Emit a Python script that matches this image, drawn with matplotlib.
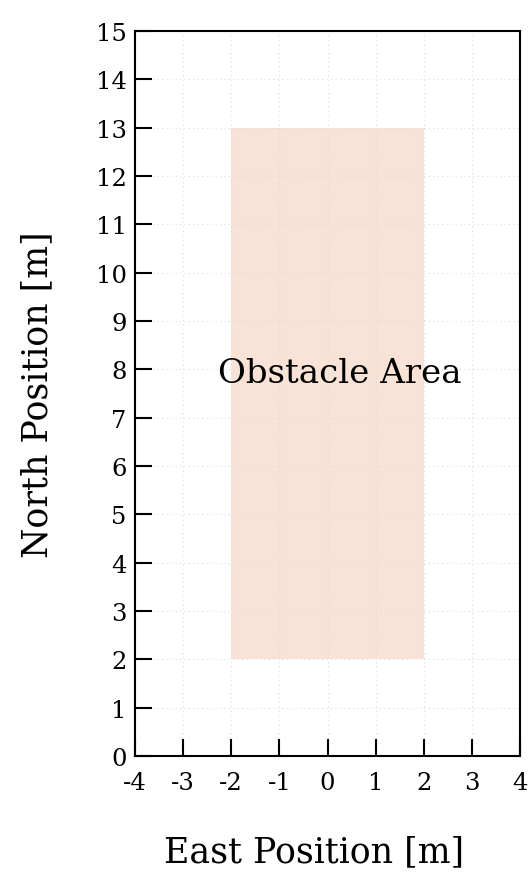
import matplotlib
matplotlib.use("Agg")
import matplotlib.pyplot as plt
from matplotlib.patches import Rectangle

x_ticks = [-4, -3, -2, -1, 0, 1, 2, 3, 4]
x_ticklabels = ["-4", "-3", "-2", "-1", "0", "1", "2", "3", "4"]
y_ticks = list(range(0, 16))
y_ticklabels = [str(v) for v in y_ticks]
obstacle_x = [-2, 2]
obstacle_y = [2, 13]
obstacle_label = "Obstacle Area"

plt.rcParams['font.family'] = ['DejaVu Serif']
plt.rcParams['axes.unicode_minus'] = False

fig = plt.figure(figsize=(5.3, 8.78), dpi=100)
ax = fig.add_axes([135/530, 1 - 757/878, (520-135)/530, (757-32)/878])

ax.add_patch(Rectangle((obstacle_x[0], obstacle_y[0]), obstacle_x[1]-obstacle_x[0],
                       obstacle_y[1]-obstacle_y[0], facecolor='#F9E3D6', edgecolor='none', zorder=0.5))
ax.text(0.25, 7.93, obstacle_label, ha='center', va='center', fontsize=24.5)

ax.set_xlim(-4, 4)
ax.set_ylim(0, 15)
ax.set_xticks(x_ticks)
ax.set_xticklabels(x_ticklabels)
ax.set_yticks(y_ticks)
ax.set_yticklabels(y_ticklabels)
ax.tick_params(direction='in', length=12, width=1.5, labelsize=17.5)
ax.tick_params(axis='x', pad=11)
ax.tick_params(axis='y', pad=6)
ax.grid(True, linestyle=(0, (1, 3)), color='#d8dde3', linewidth=0.8)
ax.set_axisbelow(True)
for s in ax.spines.values():
    s.set_linewidth(1.5)

ax.set_xlabel("East Position [m]", fontsize=25)
ax.xaxis.set_label_coords(0.465, -0.108)
ax.set_ylabel("North Position [m]", fontsize=25, labelpad=30)

fig.savefig("out.png", dpi=100)
